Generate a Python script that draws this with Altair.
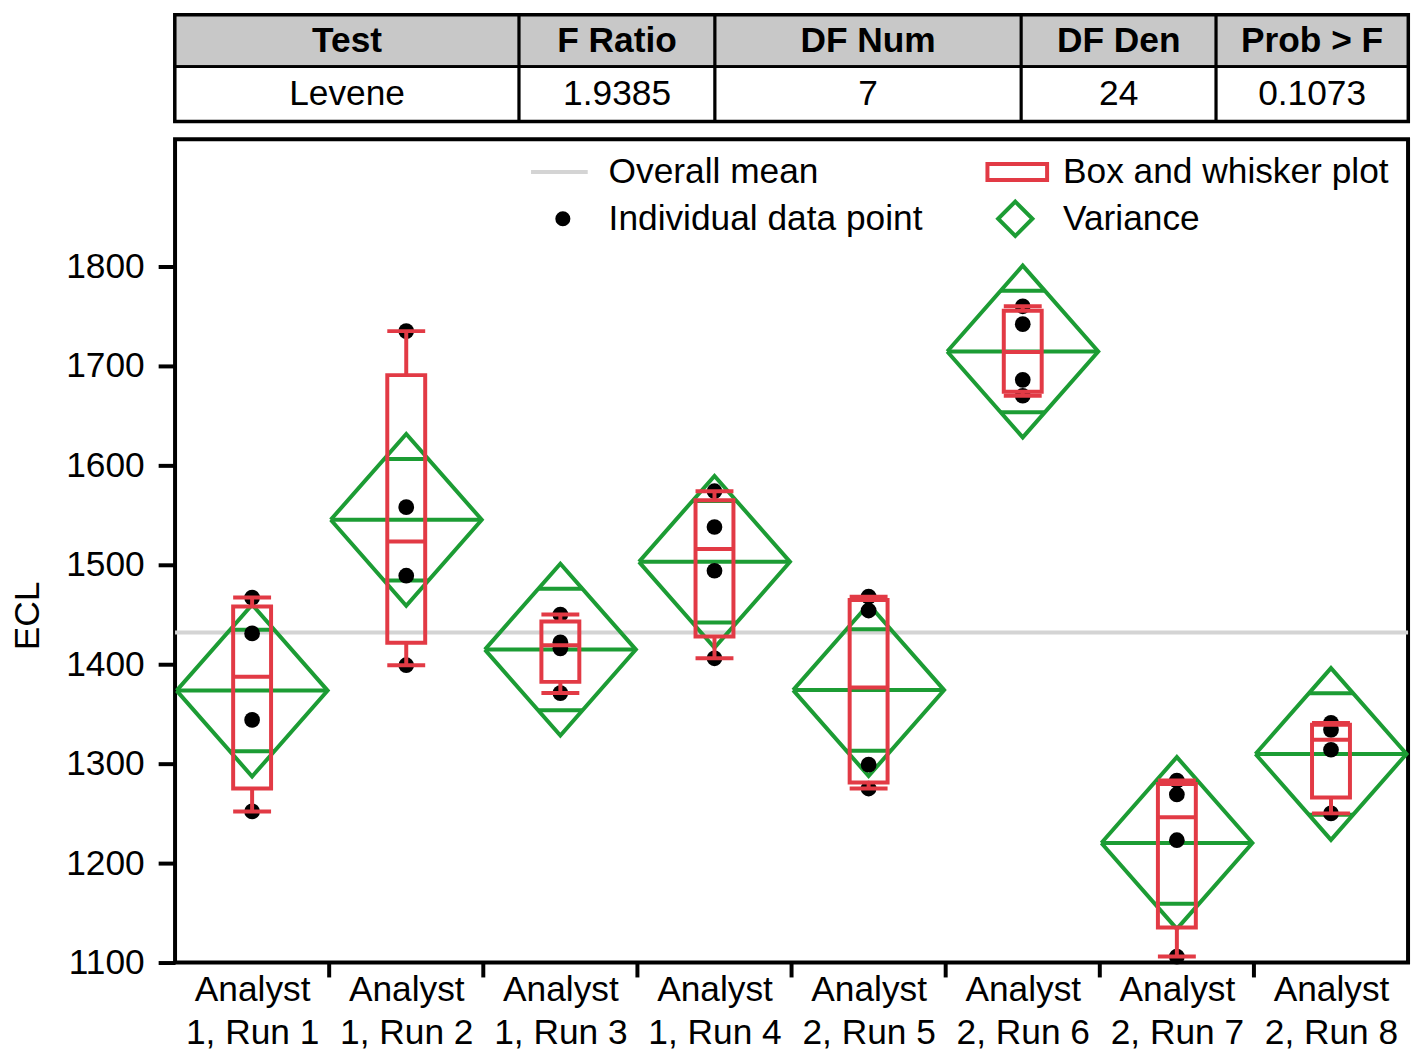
import json
import altair as alt
import pandas as pd
import numpy as np

# ---------------- data ----------------
groups = ["Analyst 1, Run 1", "Analyst 1, Run 2", "Analyst 1, Run 3", "Analyst 1, Run 4",
          "Analyst 2, Run 5", "Analyst 2, Run 6", "Analyst 2, Run 7", "Analyst 2, Run 8"]
run1 = [1252, 1344, 1431, 1467]
run2 = [1399, 1489, 1558, 1735]
run3 = [1371, 1416, 1422, 1450]
run4 = [1406, 1494, 1538, 1574]
run5 = [1275, 1299, 1454, 1468]
run6 = [1670, 1686, 1742, 1760]
run7 = [1106, 1223, 1269, 1283]
run8 = [1250, 1314, 1334, 1341]
series = [run1, run2, run3, run4, run5, run6, run7, run8]

table_header = ["Test", "F Ratio", "DF Num", "DF Den", "Prob > F"]
table_values = ["Levene", "1.9385", "7", "24", "0.1073"]

y_ticks = [1100, 1200, 1300, 1400, 1500, 1600, 1700, 1800]
t_crit = 2.0639  # t(0.975, 24)

# ---------------- layout ----------------
W, H = 1240, 828
FONT = "Liberation Sans"
FS = 35.5
GREEN = "#1c9c34"
RED = "#e23a45"
GREY = "#d4d4d4"
DIAMOND_HW = 0.49
BOX_HW = 0.123
col_widths = [346, 197, 308, 196, 193]
TABLE_H = 107
HEAD_H = 52

# ---------------- derived stats ----------------
def q(vals, p):
    s = sorted(vals)
    n = len(s)
    pos = p * (n + 1)
    lo = int(np.floor(pos))
    frac = pos - lo
    lo = min(max(lo, 1), n)
    hi = min(lo + 1, n)
    return s[lo - 1] + frac * (s[hi - 1] - s[lo - 1])

pts = pd.DataFrame([{"i": i, "g": groups[i], "v": v} for i, s in enumerate(series) for v in s])
ss = sum(((np.array(s) - np.mean(s)) ** 2).sum() for s in series)
dfe = sum(len(s) for s in series) - len(series)
rmse = np.sqrt(ss / dfe)
grand = float(np.mean([v for s in series for v in s]))

rows = []
for i, s in enumerate(series):
    rows.append({
        "i": i, "mean": float(np.mean(s)),
        "ci": t_crit * rmse / np.sqrt(len(s)),
        "q1": q(s, 0.25), "med": q(s, 0.5), "q3": q(s, 0.75),
        "lo": min(s), "hi": max(s),
    })
stats = pd.DataFrame(rows)
stats["ov_hi"] = stats["mean"] + stats["ci"] / np.sqrt(2)
stats["ov_lo"] = stats["mean"] - stats["ci"] / np.sqrt(2)

poly = []
for _, r in stats.iterrows():
    corners = [(-DIAMOND_HW, r["mean"]), (0, r["mean"] + r["ci"]), (DIAMOND_HW, r["mean"]),
               (0, r["mean"] - r["ci"]), (-DIAMOND_HW, r["mean"])]
    for k, (dx, yy) in enumerate(corners):
        poly.append({"i": r["i"], "k": k, "x": r["i"] + dx, "y": yy})
poly = pd.DataFrame(poly)

edges = pd.DataFrame({"x": [i + 0.5 for i in range(len(groups) - 1)]})

# ---------------- main chart ----------------
xscale = alt.Scale(domain=[-0.5, len(groups) - 0.5], nice=False, zero=False)
yscale = alt.Scale(domain=[1100, 1928], nice=False, zero=False)

label_lines = [[g.split(" ", 1)[0], g.split(" ", 1)[1]] for g in groups]
x_axis = alt.Axis(values=list(range(len(groups))), ticks=False, domain=False, grid=False,
                  labelExpr=json.dumps(label_lines) + "[datum.value]",
                  labelFontSize=FS, labelFont=FONT, labelColor="black",
                  labelLineHeight=43, labelPadding=10, labelFlush=False, labelOverlap=False,
                  title=None)
y_axis = alt.Axis(values=y_ticks, format="d", domain=False, grid=False, tickSize=17, tickWidth=4,
                  tickColor="black", labelFontSize=FS, labelFont=FONT, labelColor="black",
                  labelPadding=14, title="ECL", titleFont=FONT, titleFontSize=FS,
                  titleFontWeight="normal", titleColor="black", titleX=-148.5, titleY=479,
                  titleBaseline="middle", titleAlign="center", titleAngle=270)


def X(f):
    return alt.X(f, scale=xscale, axis=x_axis)


def Y(f):
    return alt.Y(f, scale=yscale, axis=y_axis)


base_mean = alt.Chart(pd.DataFrame({"m": [grand], "x0": [-0.5]})).mark_rule(
    color=GREY, strokeWidth=4).encode(y=Y("m:Q"), x=X("x0:Q"), x2=alt.value(W))

diamonds = alt.Chart(poly).mark_line(color=GREEN, strokeWidth=4, strokeJoin="miter").encode(
    x=X("x:Q"), y=Y("y:Q"), detail="i:N", order="k:Q")

sbase = alt.Chart(stats).transform_calculate(
    dx0=f"datum.i - {DIAMOND_HW}", dx1=f"datum.i + {DIAMOND_HW}",
    ox0=f"datum.i - {DIAMOND_HW * (1 - 1 / np.sqrt(2))}",
    ox1=f"datum.i + {DIAMOND_HW * (1 - 1 / np.sqrt(2))}",
    bx0=f"datum.i - {BOX_HW}", bx1=f"datum.i + {BOX_HW}")

mean_lines = sbase.mark_rule(color=GREEN, strokeWidth=4).encode(
    x=X("dx0:Q"), x2="dx1:Q", y=Y("mean:Q"))
ov_hi = sbase.mark_rule(color=GREEN, strokeWidth=4).encode(
    x=X("ox0:Q"), x2="ox1:Q", y=Y("ov_hi:Q"))
ov_lo = sbase.mark_rule(color=GREEN, strokeWidth=4).encode(
    x=X("ox0:Q"), x2="ox1:Q", y=Y("ov_lo:Q"))

points = alt.Chart(pts).mark_circle(color="black", opacity=1, size=250).encode(
    x=X("i:Q"), y=Y("v:Q"))

wh_lo = sbase.mark_rule(color=RED, strokeWidth=4).encode(x=X("i:Q"), y=Y("lo:Q"), y2="q1:Q")
wh_hi = sbase.mark_rule(color=RED, strokeWidth=4).encode(x=X("i:Q"), y=Y("q3:Q"), y2="hi:Q")
cap_lo = sbase.mark_rule(color=RED, strokeWidth=4).encode(x=X("bx0:Q"), x2="bx1:Q", y=Y("lo:Q"))
cap_hi = sbase.mark_rule(color=RED, strokeWidth=4).encode(x=X("bx0:Q"), x2="bx1:Q", y=Y("hi:Q"))
boxes = sbase.mark_rect(fillOpacity=0, stroke=RED, strokeWidth=4).encode(
    x=X("bx0:Q"), x2="bx1:Q", y=Y("q1:Q"), y2="q3:Q")
medians = sbase.mark_rule(color=RED, strokeWidth=4).encode(
    x=X("bx0:Q"), x2="bx1:Q", y=Y("med:Q"))

sep_ticks = alt.Chart(edges).mark_rule(color="black", strokeWidth=4, clip=False).encode(
    x=X("x:Q"), y=alt.value(H), y2=alt.value(H + 15))


# legend (drawn inside the plot)
def legend_text(txt, x, y):
    return alt.Chart(pd.DataFrame({"t": [txt]})).mark_text(
        align="left", baseline="middle", font=FONT, fontSize=FS, color="black").encode(
        text="t:N", x=alt.value(x), y=alt.value(y))


one = pd.DataFrame({"a": [0]})
leg_line = alt.Chart(one).mark_rule(color=GREY, strokeWidth=4).encode(
    x=alt.value(358), x2=alt.value(415), y=alt.value(33))
leg_dot = alt.Chart(one).mark_circle(color="black", opacity=1, size=230).encode(
    x=alt.value(390), y=alt.value(80))
leg_box = alt.Chart(one).mark_rect(fillOpacity=0, stroke=RED, strokeWidth=4).encode(
    x=alt.value(817), x2=alt.value(877), y=alt.value(25), y2=alt.value(41))
leg_diam = alt.Chart(one).mark_point(shape="M0,-1L1,0L0,1L-1,0Z", filled=False, color=GREEN,
                                     strokeWidth=4, size=1190, opacity=1).encode(
    x=alt.value(845), y=alt.value(80))

main = alt.layer(
    base_mean, diamonds, mean_lines, ov_hi, ov_lo, points,
    wh_lo, wh_hi, cap_lo, cap_hi, boxes, medians, sep_ticks,
    leg_line, legend_text("Overall mean", 436, 33),
    leg_dot, legend_text("Individual data point", 436, 80),
    leg_box, legend_text("Box and whisker plot", 893, 33),
    leg_diam, legend_text("Variance", 893, 80),
).properties(width=W, height=H)

# ---------------- table ----------------
edges_x = np.concatenate([[0], np.cumsum(col_widths)])
cells = []
for r, row in enumerate([table_header, table_values]):
    for c, txt in enumerate(row):
        cells.append({"r": r, "t": txt, "x0": float(edges_x[c]), "x1": float(edges_x[c + 1])})
cells = pd.DataFrame(cells)
tx = alt.Scale(domain=[0, W], nice=False, zero=False)
ty = alt.Scale(domain=[0, TABLE_H], nice=False, zero=False, reverse=True)

tbase = alt.Chart(cells).transform_calculate(
    y0=f"datum.r == 0 ? 0 : {HEAD_H}", y1=f"datum.r == 0 ? {HEAD_H} : {TABLE_H}",
    xc="(datum.x0 + datum.x1) / 2", yc="(datum.y0 + datum.y1) / 2")

head_rect = tbase.transform_filter("datum.r == 0").mark_rect(
    fill="#c8c8c8", stroke="black", strokeWidth=3).encode(
    x=alt.X("x0:Q", scale=tx, axis=None), x2="x1:Q",
    y=alt.Y("y0:Q", scale=ty, axis=None), y2="y1:Q")
body_rect = tbase.transform_filter("datum.r == 1").mark_rect(
    fill="white", stroke="black", strokeWidth=3).encode(
    x=alt.X("x0:Q", scale=tx, axis=None), x2="x1:Q",
    y=alt.Y("y0:Q", scale=ty, axis=None), y2="y1:Q")
head_txt = tbase.transform_filter("datum.r == 0").mark_text(
    font=FONT, fontSize=FS, fontWeight="bold", color="black", baseline="middle").encode(
    x=alt.X("xc:Q", scale=tx, axis=None), y=alt.Y("yc:Q", scale=ty, axis=None), text="t:N")
body_txt = tbase.transform_filter("datum.r == 1").mark_text(
    font=FONT, fontSize=FS, color="black", baseline="middle").encode(
    x=alt.X("xc:Q", scale=tx, axis=None), y=alt.Y("yc:Q", scale=ty, axis=None), text="t:N")

table = alt.layer(head_rect, body_rect, head_txt, body_txt).properties(width=W, height=TABLE_H)

chart = alt.vconcat(table, main, spacing=12).properties(
    padding={"left": 0, "top": 0, "right": 0, "bottom": -6},
    background="white").configure_view(stroke="black", strokeWidth=4)

chart.save("out.html", embed_options={"renderer": "svg", "actions": False})
